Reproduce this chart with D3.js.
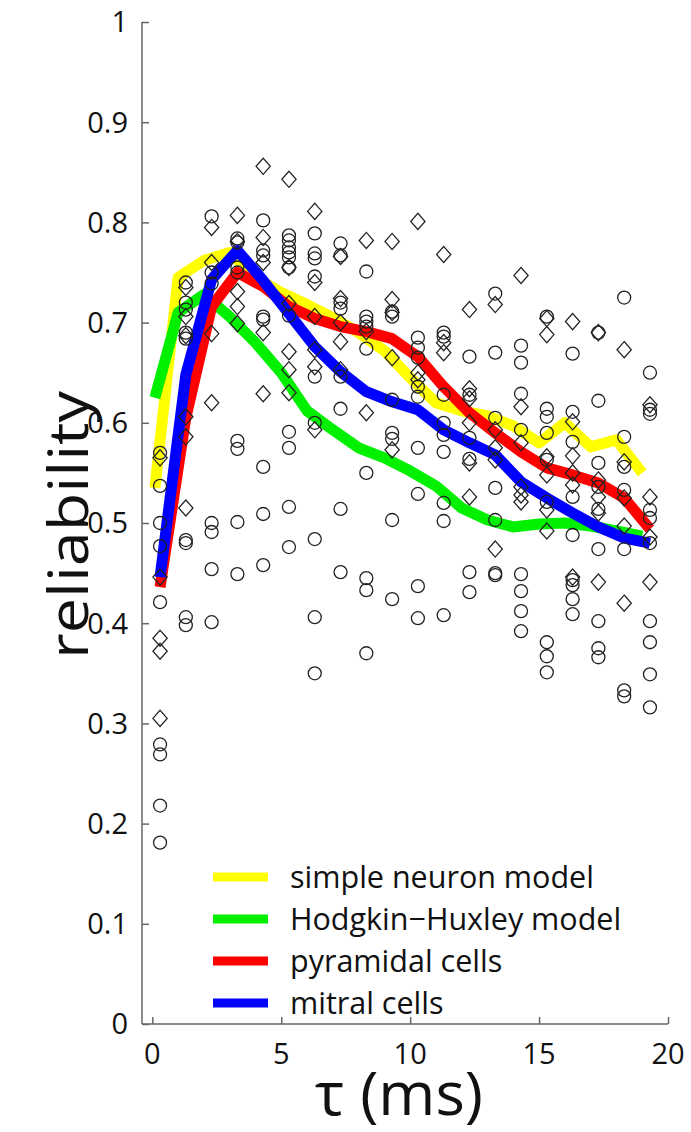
<!DOCTYPE html>
<html><head><meta charset="utf-8">
<script src="https://cdn.jsdelivr.net/npm/d3@7"></script>
<style>body{margin:0;background:#fff}svg{display:block}text{font-family:"Open Sans",sans-serif;fill:#111}</style>
</head><body>
<script>
// ---- data ----
const tauCells = [0.3,1.3,2.3,3.3,4.3,5.3,6.3,7.3,8.3,9.3,10.3,11.3,12.3,13.3,14.3,15.3,16.3,17.3,18.3,19.3];
const tauModel = [0.1,1,2,3,4,5,6,7,8,9,10,11,12,13,14,15,16,17,18,19];
const simpleModel = [0.535,0.745,0.762,0.770,0.745,0.730,0.718,0.705,0.690,0.672,0.645,0.620,0.612,0.607,0.597,0.580,0.600,0.576,0.583,0.550];
const hhModel = [0.625,0.710,0.728,0.706,0.680,0.650,0.612,0.593,0.575,0.565,0.552,0.537,0.515,0.503,0.496,0.499,0.500,0.497,0.492,0.487];
const pyramidal = [0.436,0.605,0.716,0.750,0.736,0.716,0.704,0.696,0.691,0.684,0.666,0.636,0.610,0.590,0.571,0.555,0.548,0.540,0.525,0.494];
const mitral = [0.446,0.648,0.743,0.772,0.742,0.709,0.676,0.651,0.631,0.621,0.613,0.593,0.580,0.568,0.541,0.525,0.510,0.496,0.485,0.480];
// individual cells: circles and diamonds per tau column
const circleVals = [
 [0.570,0.537,0.500,0.477,0.421,0.279,0.269,0.218,0.181],
 [0.740,0.720,0.713,0.690,0.684,0.483,0.480,0.406,0.398],
 [0.806,0.750,0.739,0.500,0.491,0.454,0.401],
 [0.784,0.780,0.755,0.750,0.582,0.574,0.501,0.449],
 [0.802,0.772,0.767,0.706,0.703,0.556,0.509,0.458],
 [0.787,0.782,0.775,0.770,0.765,0.755,0.707,0.591,0.575,0.516,0.476],
 [0.789,0.769,0.764,0.746,0.646,0.600,0.484,0.406,0.350],
 [0.779,0.767,0.720,0.714,0.646,0.614,0.514,0.451],
 [0.751,0.706,0.701,0.696,0.674,0.550,0.445,0.433,0.370],
 [0.711,0.706,0.623,0.590,0.584,0.503,0.424],
 [0.685,0.675,0.665,0.636,0.626,0.575,0.529,0.437,0.405],
 [0.690,0.686,0.628,0.600,0.588,0.571,0.520,0.502,0.408],
 [0.666,0.628,0.585,0.564,0.451,0.431],
 [0.729,0.670,0.605,0.535,0.503,0.450,0.448],
 [0.677,0.660,0.629,0.593,0.449,0.432,0.412,0.392],
 [0.706,0.614,0.606,0.590,0.563,0.521,0.381,0.367,0.351],
 [0.669,0.611,0.581,0.526,0.488,0.443,0.438,0.424,0.409],
 [0.690,0.622,0.560,0.536,0.514,0.474,0.402,0.375,0.366],
 [0.725,0.586,0.556,0.533,0.474,0.333,0.327],
 [0.650,0.613,0.609,0.513,0.505,0.480,0.402,0.381,0.349,0.316]
];
const diamondVals = [
 [0.565,0.446,0.385,0.372,0.305],
 [0.735,0.706,0.687,0.606,0.586,0.515],
 [0.795,0.760,0.689,0.620],
 [0.807,0.781,0.731,0.716,0.699],
 [0.856,0.785,0.760,0.690,0.629],
 [0.843,0.755,0.719,0.671,0.653,0.630],
 [0.811,0.740,0.706,0.673,0.656,0.593],
 [0.766,0.724,0.700,0.681,0.653],
 [0.782,0.691,0.610],
 [0.781,0.723,0.710,0.665,0.573],
 [0.801,0.650,0.643],
 [0.768,0.680,0.670],
 [0.713,0.634,0.624,0.600,0.560,0.526],
 [0.718,0.593,0.575,0.563,0.474],
 [0.747,0.616,0.580,0.536,0.528,0.521],
 [0.704,0.688,0.566,0.548,0.513,0.492],
 [0.701,0.601,0.567,0.550,0.538,0.446],
 [0.690,0.543,0.526,0.510,0.441],
 [0.673,0.561,0.525,0.497,0.420],
 [0.618,0.526,0.486,0.441]
];
const yTicks = [0,0.1,0.2,0.3,0.4,0.5,0.6,0.7,0.8,0.9,1];
const xTicks = [0,5,10,15,20];
const seriesNames = ["simple neuron model","Hodgkin\u2212Huxley model","pyramidal cells","mitral cells"];
const seriesColors = ["#ffff00","#00f000","#ff0000","#0000ff"];

// ---- drawing ----
const W = 691, H = 1132;
const svg = d3.select("body").append("svg").attr("width", W).attr("height", H);
const x = d3.scaleLinear().domain([-0.4, 20]).range([142, 668]);
const y = d3.scaleLinear().domain([0, 1]).range([1024, 22]);

const series = [
  {tau: tauModel, vals: simpleModel},
  {tau: tauModel, vals: hhModel},
  {tau: tauCells, vals: pyramidal},
  {tau: tauCells, vals: mitral}
];
const line = d3.line().x(d => x(d[0])).y(d => y(d[1]));
series.forEach((s, i) => {
  svg.append("path")
    .attr("d", line(s.tau.map((t, j) => [t, s.vals[j]])))
    .attr("fill", "none").attr("stroke", seriesColors[i])
    .attr("stroke-width", 11).attr("stroke-linejoin", "round");
});

// markers
const circ = [], diam = [];
tauCells.forEach((t, i) => {
  circleVals[i].forEach(v => circ.push([t, v]));
  diamondVals[i].forEach(v => diam.push([t, v]));
});
svg.append("g").selectAll("circle").data(circ).join("circle")
  .attr("cx", d => x(d[0])).attr("cy", d => y(d[1])).attr("r", 6.5)
  .attr("fill", "none").attr("stroke", "#222").attr("stroke-width", 1.3);
const dsym = d3.symbol().type(d3.symbolDiamond2).size(130);
svg.append("g").selectAll("path").data(diam).join("path")
  .attr("d", dsym)
  .attr("transform", d => `translate(${x(d[0])},${y(d[1])}) scale(1,1.13)`)
  .attr("fill", "none").attr("stroke", "#222").attr("stroke-width", 1.2);

// axes
const axCol = "#666";
const yAxis = d3.axisRight(y).tickValues(yTicks).tickSize(7).tickFormat("");
const gy = svg.append("g").attr("transform", `translate(${x(-0.4)},0)`).call(yAxis);
gy.select(".domain").attr("d", `M0,${y(1)}V${y(0)}`);
gy.selectAll("path,line").attr("stroke", axCol).attr("stroke-width", 1.5);
const xAxis = d3.axisTop(x).tickValues(xTicks).tickSize(7).tickFormat("");
const gx = svg.append("g").attr("transform", `translate(0,${y(0)})`).call(xAxis);
gx.select(".domain").attr("d", `M${x(-0.4)},0H${x(20)}`);
gx.selectAll("path,line").attr("stroke", axCol).attr("stroke-width", 1.5);

// tick labels
svg.append("g").selectAll("text").data(yTicks).join("text")
  .attr("x", 128).attr("y", d => y(d)).attr("dy", "0.36em")
  .attr("text-anchor", "end").attr("font-size", 29)
  .text(d => d3.format("")(d));
svg.append("g").selectAll("text").data(xTicks).join("text")
  .attr("x", d => x(d)).attr("y", 1054).attr("dy", "0.36em")
  .attr("text-anchor", "middle").attr("font-size", 29)
  .text(d => d);

// axis titles
svg.append("text").attr("transform", "translate(88,525) rotate(-90)")
  .attr("text-anchor", "middle").attr("font-size", 55)
  .attr("textLength", 268).attr("lengthAdjust", "spacingAndGlyphs").text("reliability");
svg.append("text").attr("x", 399).attr("y", 1115)
  .attr("text-anchor", "middle").attr("font-size", 60)
  .attr("textLength", 168).attr("lengthAdjust", "spacingAndGlyphs").text("\u03c4 (ms)");

// legend
const lg = svg.append("g");
seriesNames.forEach((n, i) => {
  const ly = 877 + i * 42;
  lg.append("line").attr("x1", 213).attr("x2", 268).attr("y1", ly).attr("y2", ly)
    .attr("stroke", seriesColors[i]).attr("stroke-width", 9);
  lg.append("text").attr("x", 290).attr("y", ly).attr("dy", "0.36em")
    .attr("font-size", 30.5).text(n);
});
</script>
</body></html>
